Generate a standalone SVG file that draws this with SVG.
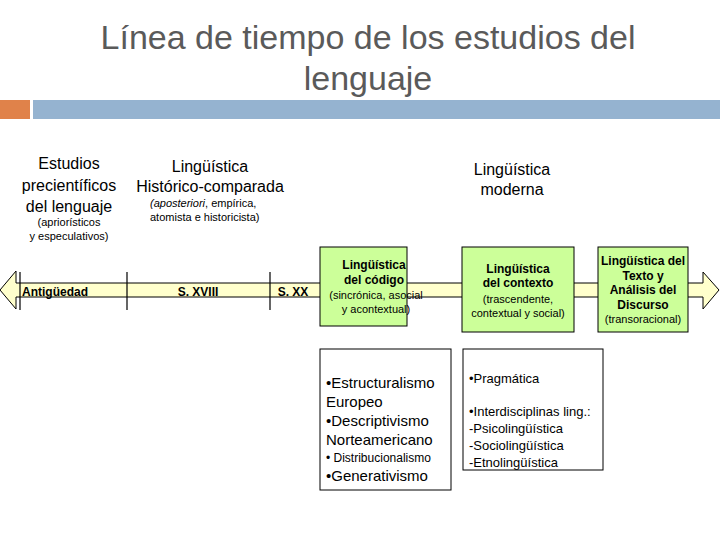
<svg xmlns="http://www.w3.org/2000/svg" width="720" height="540" viewBox="0 0 720 540">
<style>
text{font-family:"Liberation Sans",Arial,sans-serif;fill:#000}
.t{fill:#5a5a5a;font-size:34px}
.h{font-size:16px}
.s{font-size:11px}
.b{font-size:12px;font-weight:bold}
.g{fill:#ccff99;stroke:#000;stroke-width:1}
.w{fill:#fff;stroke:#000;stroke-width:1}
.l{font-size:15px}
</style>
<rect width="720" height="540" fill="#fff"/>
<text class="t" x="368" y="49" text-anchor="middle">Línea de tiempo de los estudios del</text>
<text class="t" x="368" y="90" text-anchor="middle">lenguaje</text>
<rect x="0" y="100" width="30" height="19" fill="#e0824a"/>
<rect x="33" y="100" width="687" height="19" fill="#95b3d0"/>
<g id="headings">
<text class="h" x="69" y="169" text-anchor="middle">Estudios</text>
<text class="h" x="69" y="191" text-anchor="middle">precientíficos</text>
<text class="h" x="69" y="212" text-anchor="middle">del lenguaje</text>
<text class="s" x="69" y="226" text-anchor="middle">(apriorísticos</text>
<text class="s" x="69" y="240" text-anchor="middle">y especulativos)</text>
<text class="h" x="210" y="172" text-anchor="middle">Lingüística</text>
<text class="h" x="210" y="192" text-anchor="middle">Histórico-comparada</text>
<text class="s" x="150" y="207"><tspan font-style="italic">(aposteriori</tspan>, empírica,</text>
<text class="s" x="150" y="221">atomista e historicista)</text>
<text class="h" x="512" y="175" text-anchor="middle">Lingüística</text>
<text class="h" x="512" y="195" text-anchor="middle">moderna</text>
</g>
<g id="connectors">
<path d="M16,283 L703,283 L703,272 L719,290 L703,309 L703,297 L16,297 L16,309 L0,290 L16,271 Z" fill="#ffffcc" stroke="#000" stroke-width="1"/>
<path d="M20,272V310M127,272V310M270,272V310" stroke="#000" stroke-width="1.2" fill="none"/>
<text class="b" x="22" y="296">Antigüedad</text>
<text class="b" x="198" y="296" text-anchor="middle">S. XVIII</text>
<text class="b" x="293" y="296" text-anchor="middle">S. XX</text>
</g>
<g id="codigo">
<rect class="g" x="320" y="247" width="87" height="79"/>
<text class="b" x="374" y="269" text-anchor="middle">Lingüística</text>
<text class="b" x="374" y="284" text-anchor="middle">del código</text>
<text class="s" x="376" y="299" text-anchor="middle">(sincrónica, asocial</text>
<text class="s" x="376" y="313" text-anchor="middle">y acontextual)</text>
</g>
<g id="contexto">
<rect class="g" x="462" y="247" width="112" height="85"/>
<text class="b" x="518" y="273" text-anchor="middle">Lingüística</text>
<text class="b" x="518" y="287" text-anchor="middle">del contexto</text>
<text class="s" x="518" y="303" text-anchor="middle">(trascendente,</text>
<text class="s" x="518" y="317" text-anchor="middle">contextual y social)</text>
</g>
<g id="texto">
<rect class="g" x="598" y="247" width="90" height="85"/>
<text class="b" x="643" y="265" text-anchor="middle">Lingüística del</text>
<text class="b" x="643" y="280" text-anchor="middle">Texto y</text>
<text class="b" x="643" y="294" text-anchor="middle">Análisis del</text>
<text class="b" x="643" y="309" text-anchor="middle">Discurso</text>
<text class="s" x="643" y="323" text-anchor="middle">(transoracional)</text>
</g>
<g id="boxA">
<rect class="w" x="320" y="349" width="131" height="141"/>
<text class="l" x="326" y="388">•Estructuralismo</text>
<text class="l" x="326" y="407">Europeo</text>
<text class="l" x="326" y="426">•Descriptivismo</text>
<text class="l" x="326" y="445">Norteamericano</text>
<text x="326" y="462" font-size="12">• Distribucionalismo</text>
<text class="l" x="326" y="481">•Generativismo</text>
</g>
<g id="boxB">
<rect class="w" x="463" y="349" width="140" height="121"/>
<text x="469" y="383" font-size="13">•Pragmática</text>
<text x="469" y="416" font-size="13">•Interdisciplinas ling.:</text>
<text x="469" y="433" font-size="13">-Psicolingüística</text>
<text x="469" y="450" font-size="13">-Sociolingüística</text>
<text x="469" y="467" font-size="13">-Etnolingüística</text>
</g>
</svg>
